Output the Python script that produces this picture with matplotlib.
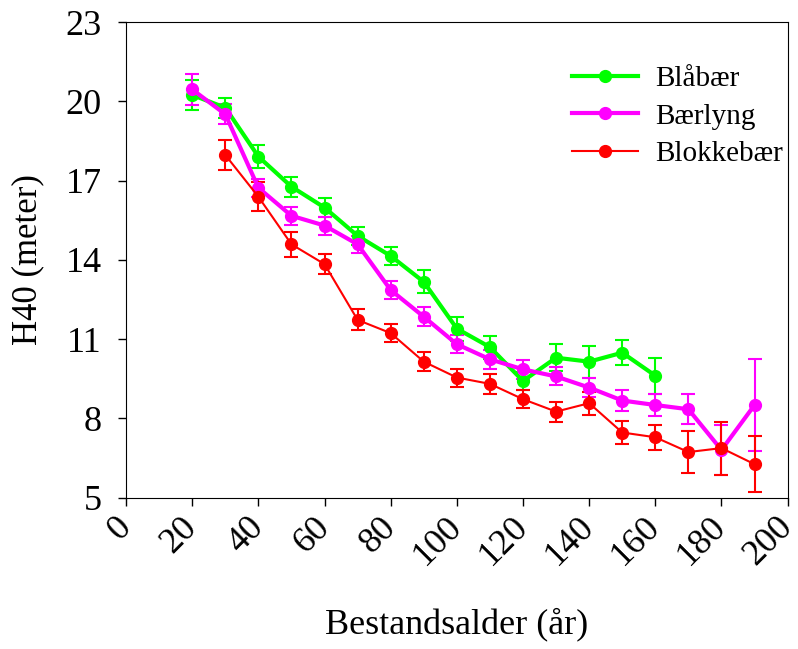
import matplotlib
matplotlib.use("Agg")
import matplotlib.pyplot as plt
from matplotlib.lines import Line2D

ages = [20, 30, 40, 50, 60, 70, 80, 90, 100, 110, 120, 130, 140, 150, 160, 170, 180, 190]

blabaer_x = [20, 30, 40, 50, 60, 70, 80, 90, 100, 110, 120, 130, 140, 150, 160]
blabaer_y = [20.24, 19.76, 17.91, 16.77, 15.98, 14.91, 14.15, 13.17, 11.40, 10.70, 9.42, 10.30, 10.15, 10.49, 9.62]
blabaer_e = [0.57, 0.38, 0.44, 0.38, 0.35, 0.35, 0.35, 0.43, 0.45, 0.44, 0.35, 0.50, 0.60, 0.48, 0.68]

baerlyng_x = ages
baerlyng_y = [20.45, 19.51, 16.73, 15.67, 15.30, 14.59, 12.86, 11.85, 10.81, 10.24, 9.86, 9.59, 9.17, 8.68, 8.51, 8.35, 6.81, 8.51]
baerlyng_e = [0.58, 0.38, 0.35, 0.34, 0.34, 0.33, 0.35, 0.35, 0.35, 0.35, 0.35, 0.34, 0.35, 0.38, 0.42, 0.57, 0.95, 1.74]

blokkebaer_x = [30, 40, 50, 60, 70, 80, 90, 100, 110, 120, 130, 140, 150, 160, 170, 180, 190]
blokkebaer_y = [17.97, 16.39, 14.59, 13.84, 11.73, 11.23, 10.15, 9.55, 9.31, 8.73, 8.26, 8.58, 7.47, 7.29, 6.73, 6.88, 6.27]
blokkebaer_e = [0.57, 0.54, 0.48, 0.39, 0.40, 0.35, 0.37, 0.34, 0.38, 0.35, 0.38, 0.44, 0.42, 0.47, 0.78, 1.00, 1.05]

x_ticks = [0, 20, 40, 60, 80, 100, 120, 140, 160, 180, 200]
y_ticks = [5, 8, 11, 14, 17, 20, 23]

plt.rcParams['font.family'] = ['Liberation Serif', 'DejaVu Serif']

fig = plt.figure(figsize=(7.98, 6.49), dpi=100)
ax = fig.add_axes([0.158, 0.233, 0.829, 0.733])

series = [
    ("Blåbær", blabaer_x, blabaer_y, blabaer_e, "#00ff00", 3.0),
    ("Bærlyng", baerlyng_x, baerlyng_y, baerlyng_e, "#ff00ff", 3.0),
    ("Blokkebær", blokkebaer_x, blokkebaer_y, blokkebaer_e, "#ff0000", 1.5),
]
handles = []
for name, x, y, e, c, lw in series:
    ax.errorbar(x, y, yerr=e, color=c, lw=lw, marker='o', markersize=8.5,
                ecolor=c, elinewidth=1.5, capsize=4.7, capthick=1.5)
    handles.append(Line2D([], [], color=c, lw=lw, marker='o', markersize=8.5))

ax.set_xlim(0, 200)
ax.set_ylim(5, 23)
ax.set_xticks(x_ticks)
ax.set_yticks(y_ticks)
ax.set_xticklabels([str(t) for t in x_ticks], rotation=45, ha='right', va='center',
                   rotation_mode='anchor')
ax.tick_params(axis='both', direction='out', length=5.5, width=1, labelsize=26)
ax.tick_params(axis='x', pad=12)
ax.tick_params(axis='y', pad=12)

ax.set_xlabel("Bestandsalder (år)", fontsize=26, va='center')
ax.xaxis.set_label_coords(0.5, -0.267)
ax.set_ylabel("H40 (meter)", fontsize=25, va='center')
ax.yaxis.set_label_coords(-0.148, 0.5)

ax.legend(handles, [s[0] for s in series], loc='upper left', frameon=False,
          fontsize=21, handlelength=2.27, handletextpad=0.6, labelspacing=0.39,
          borderpad=0, borderaxespad=0, bbox_to_anchor=(0.674, 0.909))

fig.savefig("out.png", dpi=100)
